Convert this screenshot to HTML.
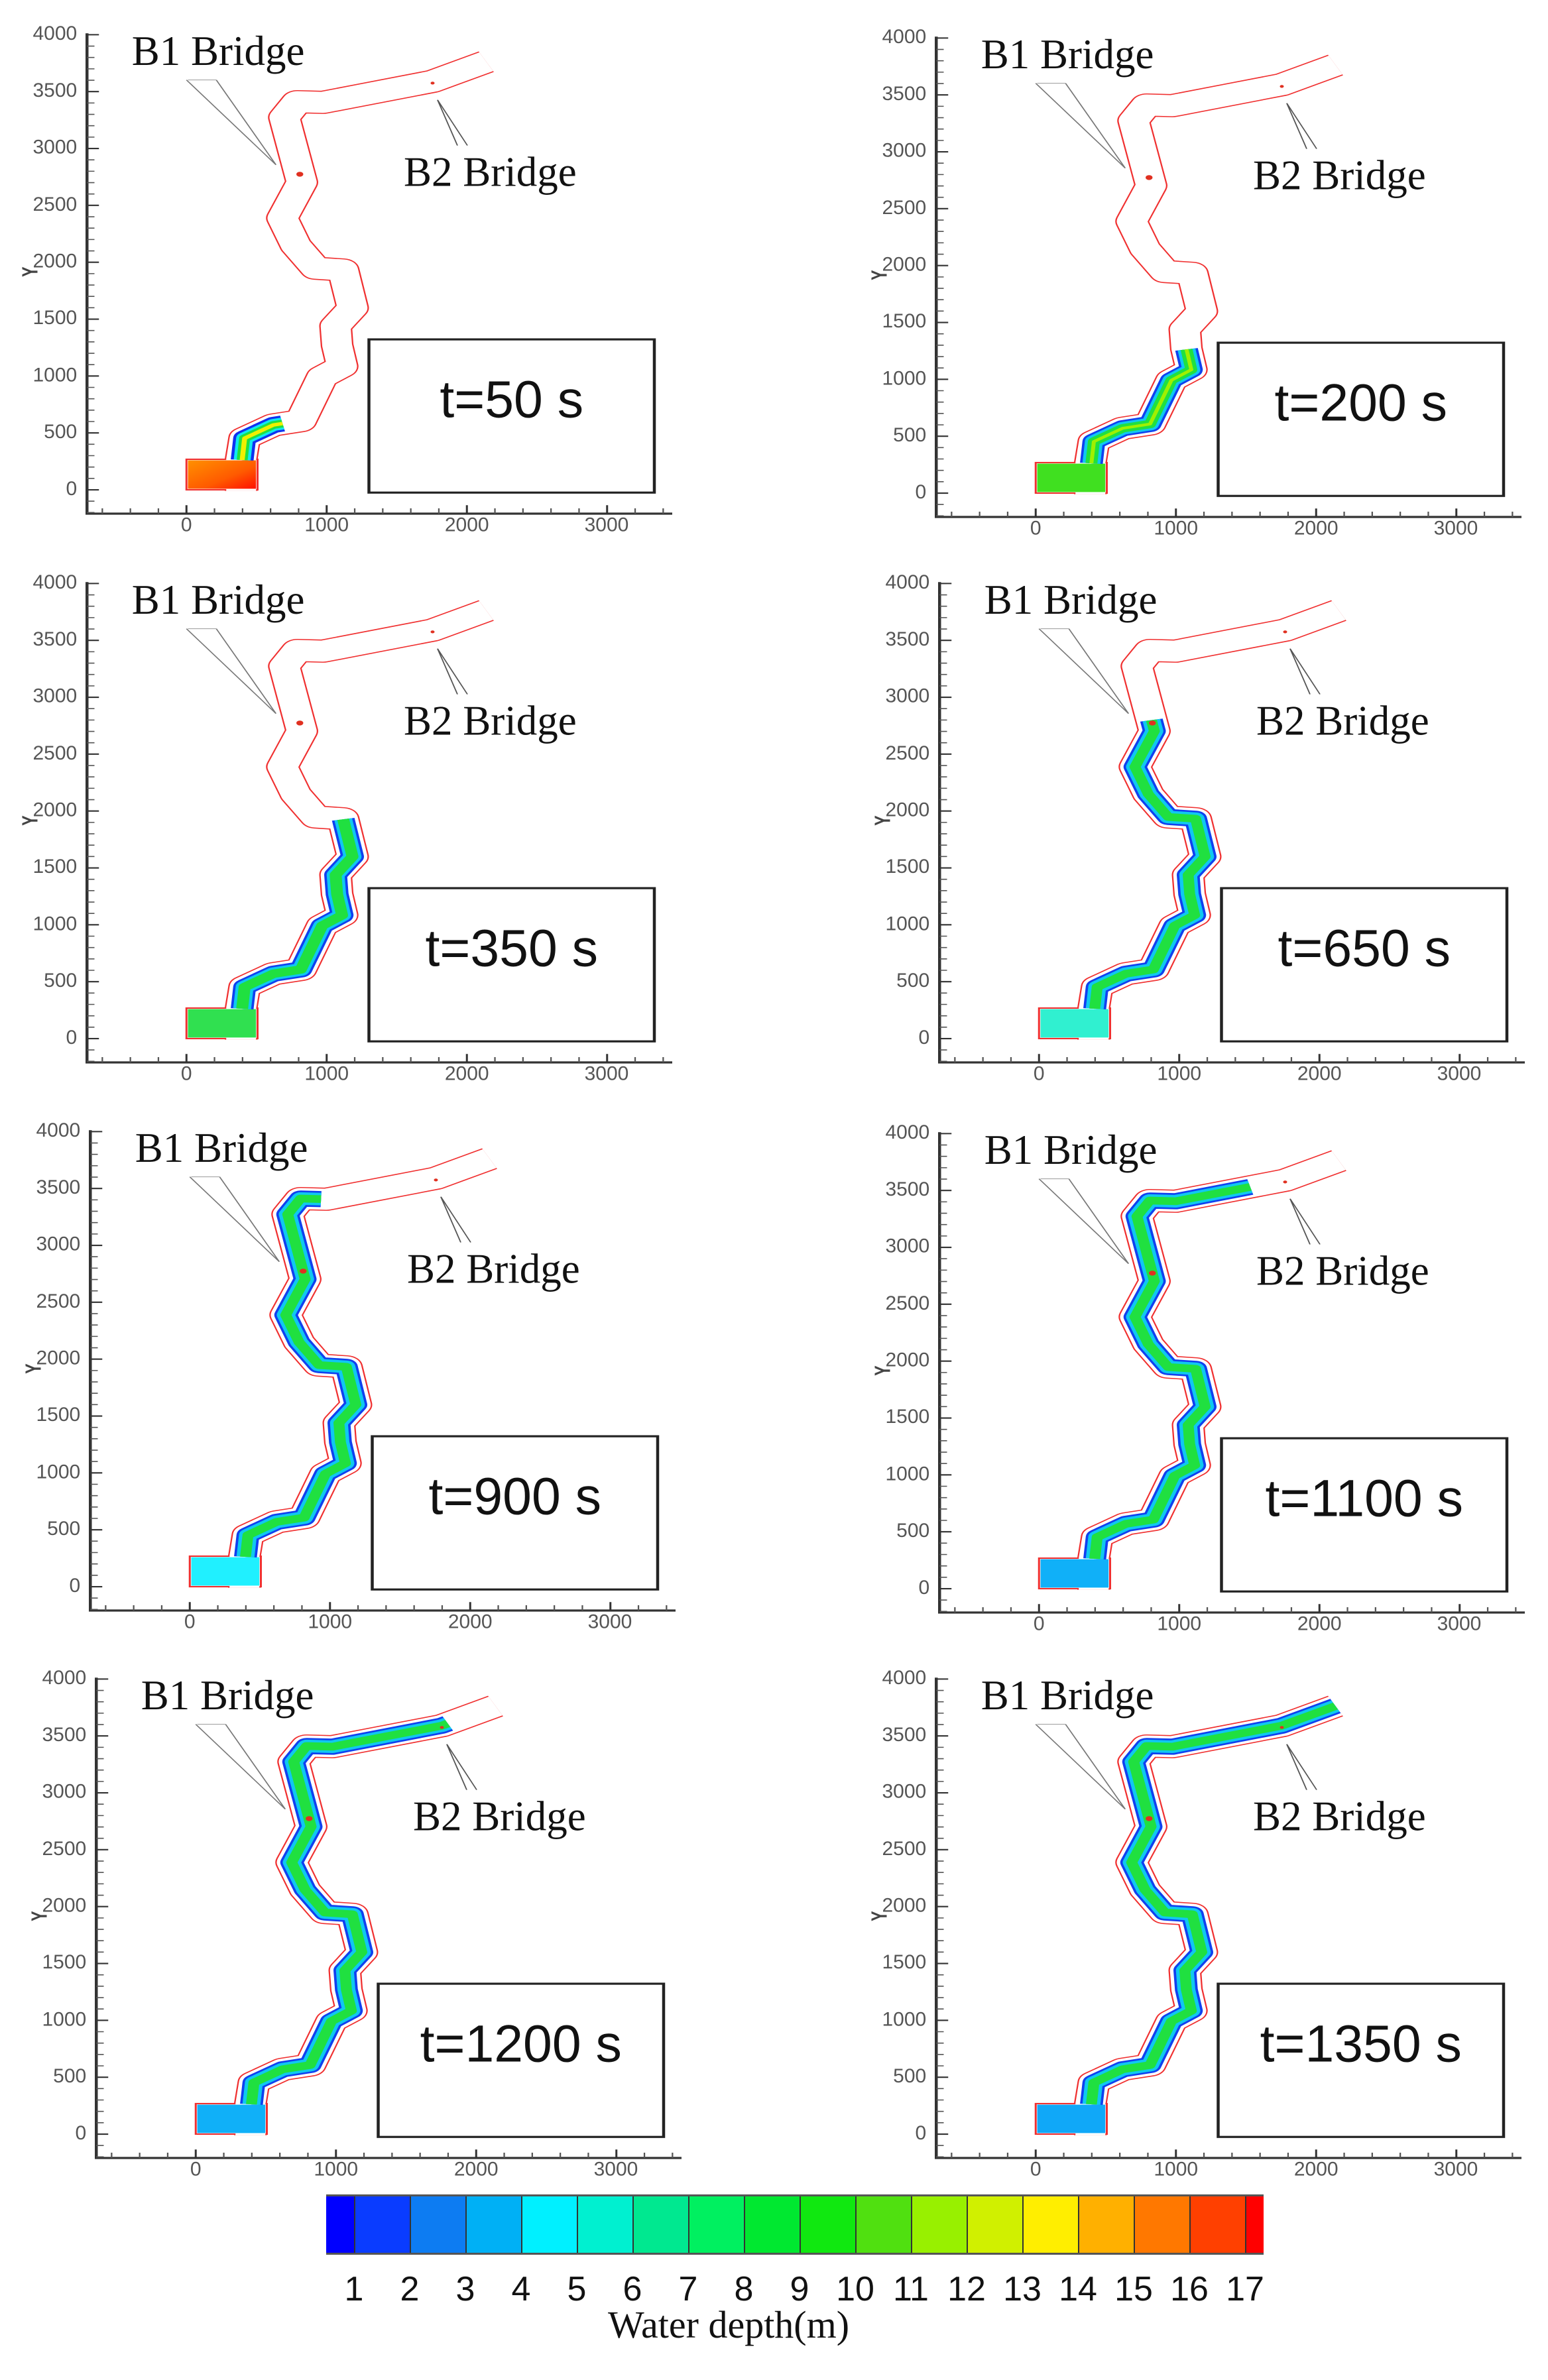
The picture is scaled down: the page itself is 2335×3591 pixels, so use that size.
<!DOCTYPE html>
<html><head><meta charset="utf-8">
<style>
html,body{margin:0;padding:0;background:#fff;}
body{width:2335px;height:3591px;position:relative;overflow:hidden;}
svg.p{position:absolute;width:1170px;height:830px;}
.tk{font-family:"Liberation Sans",sans-serif;font-size:40px;fill:#555;}
.br{font-family:"Liberation Serif",serif;font-size:84px;fill:#111;}
.tt{font-family:"Liberation Sans",sans-serif;font-size:105px;fill:#111;text-anchor:middle;}
.tk text,.br,.tt{transform-box:fill-box;transform-origin:50% 80%;transform:scaleY(1.418);}
.yl{font-family:"Liberation Sans",sans-serif;font-size:44px;font-weight:bold;fill:#444;}
#cb{position:absolute;left:492px;top:3311px;width:1414px;height:91px;display:flex;border-top:3px solid #555;border-bottom:3px solid #555;box-sizing:border-box;}
#cb div{height:100%;border-left:2px solid #333;box-sizing:border-box;}
.cl{position:absolute;top:3424px;font-family:"Liberation Sans",sans-serif;font-size:52px;color:#111;width:80px;margin-left:-40px;text-align:center;}
</style></head><body>
<svg width="0" height="0" style="position:absolute">
<defs>
<path id="cp" d="M485,1400 L485,1310 L492,1250 L550,1212 L605,1200 L648,1075 L688,1045 L678,985 L675,930 L709,878 L690,770 L635,765 L595,700 L568,622 L607,520 L572,335 L598,290 L650,292 L870,232 L978,176"/>
<path id="wp" pathLength="1620" d="M487,1312 L492,1250 L550,1212 L605,1200 L648,1075 L688,1045 L678,985 L675,930 L709,878 L690,770 L635,765 L595,700 L568,622 L607,520 L572,335 L598,290 L650,292 L870,232 L978,176"/>
<g id="base">
 <g fill="none">
  <line x1="175" y1="95" x2="175" y2="1467" stroke="#333" stroke-width="6"/>
  <line x1="172" y1="1465" x2="1352" y2="1465" stroke="#333" stroke-width="6"/>
  <line x1="182.5" y1="1463.4" x2="182.5" y2="95" stroke="#555" stroke-width="15" stroke-dasharray="3 29.45"/>
  <line x1="187" y1="1399" x2="187" y2="95" stroke="#333" stroke-width="24" stroke-dasharray="4 158.25"/>
  <line x1="204.3" y1="1457.5" x2="1350" y2="1457.5" stroke="#555" stroke-width="15" stroke-dasharray="3 53.4"/>
  <line x1="373" y1="1453" x2="1350" y2="1453" stroke="#333" stroke-width="24" stroke-dasharray="4 278"/>
  <use href="#cp" stroke="#f03030" stroke-width="66" stroke-linejoin="round"/>
  <rect x="375" y="1310" width="143" height="87" stroke="#f03030" stroke-width="4" fill="#fff"/>
  <use href="#cp" stroke="#fff" stroke-width="60" stroke-linejoin="round"/>
  <line x1="375" y1="228" x2="555" y2="470" stroke="#777" stroke-width="2.5"/>
  <line x1="435" y1="228" x2="555" y2="470" stroke="#777" stroke-width="2.5"/>
  <line x1="378" y1="228" x2="435" y2="228" stroke="#999" stroke-width="2"/>
  <line x1="880" y1="285" x2="920" y2="415" stroke="#555" stroke-width="2.5"/>
  <line x1="880" y1="285" x2="940" y2="415" stroke="#555" stroke-width="2.5"/>
  <rect x="742" y="968" width="574" height="437" stroke="#222" stroke-width="6" fill="#fff"/>
 </g>
</g>
<g id="dots"><circle cx="603" cy="497" r="7" fill="#e03020"/><circle cx="870" cy="237" r="4" fill="#e03020"/></g>
<linearGradient id="g1" x1="0" y1="0" x2="1" y2="1"><stop offset="0" stop-color="#ff9000"/><stop offset="0.6" stop-color="#ff5a00"/><stop offset="1" stop-color="#ff1000"/></linearGradient>
</defs>
</svg>

<svg class="p" style="left:0px;top:0px" viewBox="0 0 1560 1569" preserveAspectRatio="none">
<use href="#base"/>
<rect x="378" y="1313" width="137" height="81" fill="url(#g1)"/>
<g fill="none" stroke-linejoin="round" stroke-dasharray="150 9999"><use href="#wp" stroke="#1030f0" stroke-width="46"/><use href="#wp" stroke="#10e8f0" stroke-width="34"/><use href="#wp" stroke="#20e040" stroke-width="22"/><use href="#wp" stroke="#f0f000" stroke-width="10"/></g>
<use href="#dots"/>
<g class="tk" text-anchor="end"><text x="155" y="1412">0</text><text x="155" y="1250">500</text><text x="155" y="1088">1000</text><text x="155" y="925">1500</text><text x="155" y="763">2000</text><text x="155" y="601">2500</text><text x="155" y="438">3000</text><text x="155" y="276">3500</text><text x="155" y="114">4000</text></g>
<g class="tk" text-anchor="middle"><text x="375" y="1515">0</text><text x="657" y="1515">1000</text><text x="939" y="1515">2000</text><text x="1220" y="1515">3000</text></g>
<text class="yl" x="0" y="0" transform="translate(75,790) rotate(-90)">Y</text>
<text class="br" x="265" y="185">B1 Bridge</text><text class="br" x="812" y="530">B2 Bridge</text>
<text class="tt" x="1029" y="1190">t=50 s</text>
</svg>

<svg class="p" style="left:1281px;top:5px" viewBox="0 0 1560 1569" preserveAspectRatio="none">
<use href="#base"/>
<rect x="378" y="1313" width="137" height="81" fill="#40e020"/>
<g fill="none" stroke-linejoin="round" stroke-dasharray="428 9999"><use href="#wp" stroke="#1040f0" stroke-width="46"/><use href="#wp" stroke="#10c8f0" stroke-width="36"/><use href="#wp" stroke="#20e040" stroke-width="24"/><use href="#wp" stroke="#a0f000" stroke-width="8"/></g>
<use href="#dots"/>
<g class="tk" text-anchor="end"><text x="155" y="1412">0</text><text x="155" y="1250">500</text><text x="155" y="1088">1000</text><text x="155" y="925">1500</text><text x="155" y="763">2000</text><text x="155" y="601">2500</text><text x="155" y="438">3000</text><text x="155" y="276">3500</text><text x="155" y="114">4000</text></g>
<g class="tk" text-anchor="middle"><text x="375" y="1515">0</text><text x="657" y="1515">1000</text><text x="939" y="1515">2000</text><text x="1220" y="1515">3000</text></g>
<text class="yl" x="0" y="0" transform="translate(75,790) rotate(-90)">Y</text>
<text class="br" x="265" y="185">B1 Bridge</text><text class="br" x="812" y="530">B2 Bridge</text>
<text class="tt" x="1029" y="1190">t=200 s</text>
</svg>

<svg class="p" style="left:0px;top:828px" viewBox="0 0 1560 1569" preserveAspectRatio="none">
<use href="#base"/>
<rect x="378" y="1313" width="137" height="81" fill="#30e050"/>
<g fill="none" stroke-linejoin="round" stroke-dasharray="655 9999"><use href="#wp" stroke="#1040f0" stroke-width="46"/><use href="#wp" stroke="#10c8f0" stroke-width="36"/><use href="#wp" stroke="#20e040" stroke-width="24"/></g>
<use href="#dots"/>
<g class="tk" text-anchor="end"><text x="155" y="1412">0</text><text x="155" y="1250">500</text><text x="155" y="1088">1000</text><text x="155" y="925">1500</text><text x="155" y="763">2000</text><text x="155" y="601">2500</text><text x="155" y="438">3000</text><text x="155" y="276">3500</text><text x="155" y="114">4000</text></g>
<g class="tk" text-anchor="middle"><text x="375" y="1515">0</text><text x="657" y="1515">1000</text><text x="939" y="1515">2000</text><text x="1220" y="1515">3000</text></g>
<text class="yl" x="0" y="0" transform="translate(75,790) rotate(-90)">Y</text>
<text class="br" x="265" y="185">B1 Bridge</text><text class="br" x="812" y="530">B2 Bridge</text>
<text class="tt" x="1029" y="1190">t=350 s</text>
</svg>

<svg class="p" style="left:1286px;top:828px" viewBox="0 0 1560 1569" preserveAspectRatio="none">
<use href="#base"/>
<rect x="378" y="1313" width="137" height="81" fill="#30f0d0"/>
<g fill="none" stroke-linejoin="round" stroke-dasharray="1011 9999"><use href="#wp" stroke="#1040f0" stroke-width="46"/><use href="#wp" stroke="#10c8f0" stroke-width="36"/><use href="#wp" stroke="#20e040" stroke-width="22"/></g>
<use href="#dots"/>
<g class="tk" text-anchor="end"><text x="155" y="1412">0</text><text x="155" y="1250">500</text><text x="155" y="1088">1000</text><text x="155" y="925">1500</text><text x="155" y="763">2000</text><text x="155" y="601">2500</text><text x="155" y="438">3000</text><text x="155" y="276">3500</text><text x="155" y="114">4000</text></g>
<g class="tk" text-anchor="middle"><text x="375" y="1515">0</text><text x="657" y="1515">1000</text><text x="939" y="1515">2000</text><text x="1220" y="1515">3000</text></g>
<text class="yl" x="0" y="0" transform="translate(75,790) rotate(-90)">Y</text>
<text class="br" x="265" y="185">B1 Bridge</text><text class="br" x="812" y="530">B2 Bridge</text>
<text class="tt" x="1029" y="1190">t=650 s</text>
</svg>

<svg class="p" style="left:5px;top:1655px" viewBox="0 0 1560 1569" preserveAspectRatio="none">
<use href="#base"/>
<rect x="378" y="1313" width="137" height="81" fill="#20f0ff"/>
<g fill="none" stroke-linejoin="round" stroke-dasharray="1260 9999"><use href="#wp" stroke="#1040f0" stroke-width="46"/><use href="#wp" stroke="#10c8f0" stroke-width="36"/><use href="#wp" stroke="#20e040" stroke-width="22"/></g>
<use href="#dots"/>
<g class="tk" text-anchor="end"><text x="155" y="1412">0</text><text x="155" y="1250">500</text><text x="155" y="1088">1000</text><text x="155" y="925">1500</text><text x="155" y="763">2000</text><text x="155" y="601">2500</text><text x="155" y="438">3000</text><text x="155" y="276">3500</text><text x="155" y="114">4000</text></g>
<g class="tk" text-anchor="middle"><text x="375" y="1515">0</text><text x="657" y="1515">1000</text><text x="939" y="1515">2000</text><text x="1220" y="1515">3000</text></g>
<text class="yl" x="0" y="0" transform="translate(75,790) rotate(-90)">Y</text>
<text class="br" x="265" y="185">B1 Bridge</text><text class="br" x="812" y="530">B2 Bridge</text>
<text class="tt" x="1029" y="1190">t=900 s</text>
</svg>

<svg class="p" style="left:1286px;top:1658px" viewBox="0 0 1560 1569" preserveAspectRatio="none">
<use href="#base"/>
<rect x="378" y="1313" width="137" height="81" fill="#10b0f8"/>
<g fill="none" stroke-linejoin="round" stroke-dasharray="1426 9999"><use href="#wp" stroke="#1040f0" stroke-width="46"/><use href="#wp" stroke="#10c8f0" stroke-width="36"/><use href="#wp" stroke="#20e040" stroke-width="22"/></g>
<use href="#dots"/>
<g class="tk" text-anchor="end"><text x="155" y="1412">0</text><text x="155" y="1250">500</text><text x="155" y="1088">1000</text><text x="155" y="925">1500</text><text x="155" y="763">2000</text><text x="155" y="601">2500</text><text x="155" y="438">3000</text><text x="155" y="276">3500</text><text x="155" y="114">4000</text></g>
<g class="tk" text-anchor="middle"><text x="375" y="1515">0</text><text x="657" y="1515">1000</text><text x="939" y="1515">2000</text><text x="1220" y="1515">3000</text></g>
<text class="yl" x="0" y="0" transform="translate(75,790) rotate(-90)">Y</text>
<text class="br" x="265" y="185">B1 Bridge</text><text class="br" x="812" y="530">B2 Bridge</text>
<text class="tt" x="1029" y="1190">t=1100 s</text>
</svg>

<svg class="p" style="left:14px;top:2481px" viewBox="0 0 1560 1569" preserveAspectRatio="none">
<use href="#base"/>
<rect x="378" y="1313" width="137" height="81" fill="#10b0f8"/>
<g fill="none" stroke-linejoin="round" stroke-dasharray="1512 9999"><use href="#wp" stroke="#1040f0" stroke-width="46"/><use href="#wp" stroke="#10c8f0" stroke-width="36"/><use href="#wp" stroke="#20e040" stroke-width="22"/></g>
<use href="#dots"/>
<g class="tk" text-anchor="end"><text x="155" y="1412">0</text><text x="155" y="1250">500</text><text x="155" y="1088">1000</text><text x="155" y="925">1500</text><text x="155" y="763">2000</text><text x="155" y="601">2500</text><text x="155" y="438">3000</text><text x="155" y="276">3500</text><text x="155" y="114">4000</text></g>
<g class="tk" text-anchor="middle"><text x="375" y="1515">0</text><text x="657" y="1515">1000</text><text x="939" y="1515">2000</text><text x="1220" y="1515">3000</text></g>
<text class="yl" x="0" y="0" transform="translate(75,790) rotate(-90)">Y</text>
<text class="br" x="265" y="185">B1 Bridge</text><text class="br" x="812" y="530">B2 Bridge</text>
<text class="tt" x="1029" y="1190">t=1200 s</text>
</svg>

<svg class="p" style="left:1281px;top:2481px" viewBox="0 0 1560 1569" preserveAspectRatio="none">
<use href="#base"/>
<rect x="378" y="1313" width="137" height="81" fill="#10a8f8"/>
<g fill="none" stroke-linejoin="round" stroke-dasharray="1620 9999"><use href="#wp" stroke="#1040f0" stroke-width="46"/><use href="#wp" stroke="#10c8f0" stroke-width="36"/><use href="#wp" stroke="#20e040" stroke-width="22"/></g>
<use href="#dots"/>
<g class="tk" text-anchor="end"><text x="155" y="1412">0</text><text x="155" y="1250">500</text><text x="155" y="1088">1000</text><text x="155" y="925">1500</text><text x="155" y="763">2000</text><text x="155" y="601">2500</text><text x="155" y="438">3000</text><text x="155" y="276">3500</text><text x="155" y="114">4000</text></g>
<g class="tk" text-anchor="middle"><text x="375" y="1515">0</text><text x="657" y="1515">1000</text><text x="939" y="1515">2000</text><text x="1220" y="1515">3000</text></g>
<text class="yl" x="0" y="0" transform="translate(75,790) rotate(-90)">Y</text>
<text class="br" x="265" y="185">B1 Bridge</text><text class="br" x="812" y="530">B2 Bridge</text>
<text class="tt" x="1029" y="1190">t=1350 s</text>
</svg>

<div id="cb">
<div style="width:42px;background:#0000ff;border-left:none"></div>
<div style="width:84px;background:#0a3cff"></div>
<div style="width:84px;background:#0d7cf2"></div>
<div style="width:84px;background:#00b0f5"></div>
<div style="width:84px;background:#00f0ff"></div>
<div style="width:84px;background:#00f0d0"></div>
<div style="width:84px;background:#00e890"></div>
<div style="width:84px;background:#00f060"></div>
<div style="width:84px;background:#00e830"></div>
<div style="width:84px;background:#10e810"></div>
<div style="width:84px;background:#50e010"></div>
<div style="width:84px;background:#98f000"></div>
<div style="width:84px;background:#d0f000"></div>
<div style="width:84px;background:#ffee00"></div>
<div style="width:84px;background:#ffb000"></div>
<div style="width:84px;background:#ff7800"></div>
<div style="width:84px;background:#ff4000"></div>
<div style="width:28px;background:#ff0000"></div>
</div>
<div class="cl" style="left:534px">1</div>
<div class="cl" style="left:618px">2</div>
<div class="cl" style="left:702px">3</div>
<div class="cl" style="left:786px">4</div>
<div class="cl" style="left:870px">5</div>
<div class="cl" style="left:954px">6</div>
<div class="cl" style="left:1038px">7</div>
<div class="cl" style="left:1122px">8</div>
<div class="cl" style="left:1206px">9</div>
<div class="cl" style="left:1290px">10</div>
<div class="cl" style="left:1374px">11</div>
<div class="cl" style="left:1458px">12</div>
<div class="cl" style="left:1542px">13</div>
<div class="cl" style="left:1626px">14</div>
<div class="cl" style="left:1710px">15</div>
<div class="cl" style="left:1794px">16</div>
<div class="cl" style="left:1878px">17</div>
<div style="position:absolute;left:799px;width:600px;text-align:center;top:3474px;font-family:'Liberation Serif',serif;font-size:58px;color:#111">Water depth(m)</div>
</body></html>
